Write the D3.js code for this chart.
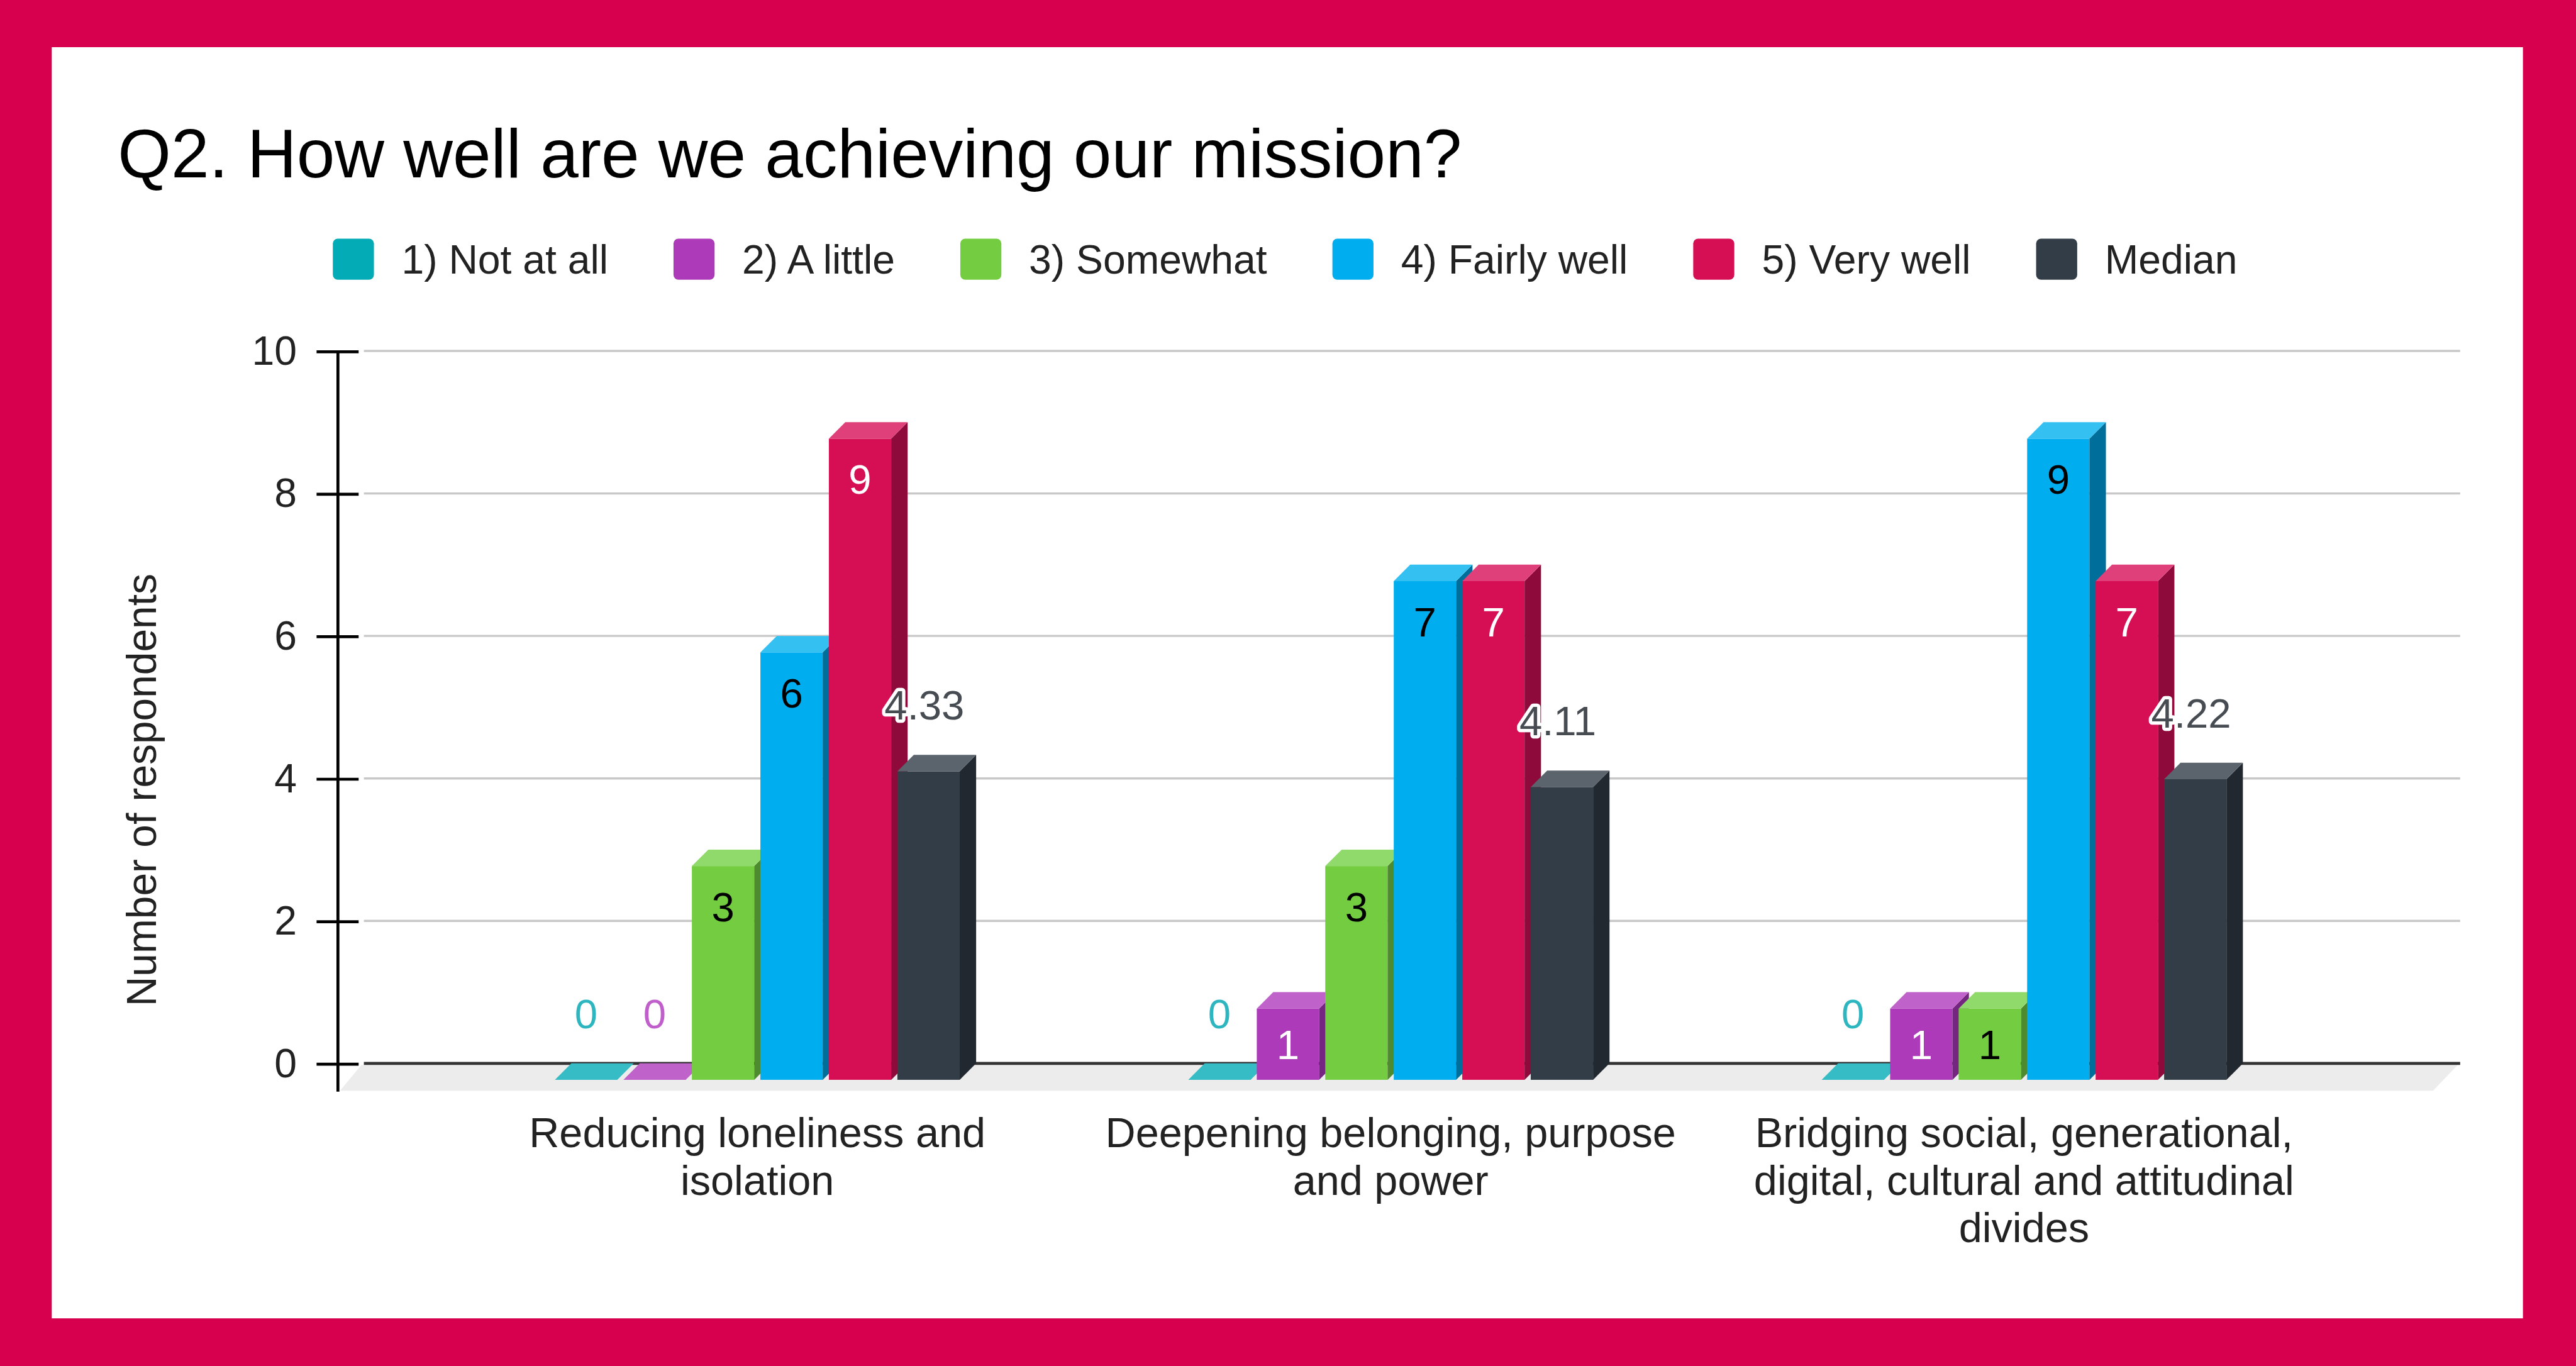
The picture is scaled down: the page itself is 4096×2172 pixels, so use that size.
<!DOCTYPE html>
<html><head><meta charset="utf-8">
<script src="https://cdn.jsdelivr.net/npm/d3@7"></script>
<style>html,body{margin:0;padding:0;background:#D7004F;overflow:hidden}svg{display:block}</style>
</head><body><script>
// ---------------- data ----------------
const title = "Q2. How well are we achieving our mission?";
const yTitle = "Number of respondents";
const categories = [
  "Reducing loneliness and isolation",
  "Deepening belonging, purpose and power",
  "Bridging social, generational, digital, cultural and attitudinal divides"
];
const seriesNames = ["1) Not at all", "2) A little", "3) Somewhat", "4) Fairly well", "5) Very well", "Median"];
const notAtAll   = [0, 0, 0];
const aLittle    = [0, 1, 1];
const somewhat   = [3, 3, 1];
const fairlyWell = [6, 7, 9];
const veryWell   = [9, 7, 7];
const median     = [4.33, 4.11, 4.22];
const yTicks = [0, 2, 4, 6, 8, 10];

// ---------------- styles ----------------
const seriesValues = [notAtAll, aLittle, somewhat, fairlyWell, veryWell, median];
const frontColors = ["#02ABB6", "#AD3BB9", "#74CD41", "#00AEEF", "#D60F55", "#333D47"];
const topColors   = ["#35BCC4", "#BF62C9", "#90D96B", "#35C0F2", "#DF4079", "#5B636C"];
const sideColors  = ["#017C84", "#742680", "#4E8A2E", "#006E9A", "#8E0A3A", "#222830"];
const insideLabel = ["#000", "#fff", "#000", "#000", "#fff", "#fff"];
const outsideLabel= ["#2DB6C0", "#C05FCB", "#222", "#222", "#222", "#474C52"];
const FONT = "'Liberation Sans', Arial, Helvetica, sans-serif";

const W = 1568, H = 831;
const svg = d3.select("body").append("svg")
  .attr("width", 4096).attr("height", 2172)
  .attr("viewBox", `0 0 ${W} ${H}`)
  .attr("preserveAspectRatio", "none")
  .style("font-family", FONT);

svg.append("rect").attr("width", W).attr("height", H).attr("fill", "#D7004F");
svg.append("rect").attr("x", 31.5).attr("y", 28.7).attr("width", 1504.2).attr("height", 773.3).attr("fill", "#fff");

// title
svg.append("text").attr("x", 71.7).attr("y", 108).attr("font-size", 41.7).attr("fill", "#000").text(title);

// legend
const legend = svg.append("g");
let lx = 202.6;
seriesNames.forEach((name, i) => {
  legend.append("rect").attr("x", lx).attr("y", 145.2).attr("width", 25).attr("height", 25)
    .attr("rx", 3).attr("fill", frontColors[i]);
  const t = legend.append("text").attr("x", lx + 41.8).attr("y", 166.6)
    .attr("font-size", 24.6).attr("fill", "#222").text(name);
  lx += 41.8 + t.node().getComputedTextLength() + 39.8;
});

// scales
const y = d3.scaleLinear().domain([0, 10]).range([646.9, 213.5]);
const x0 = d3.scaleBand().domain(categories).range([268.2, 1424.8]).paddingInner(0).paddingOuter(0);
const x1 = d3.scaleBand().domain(seriesNames).range([-123.2, 123.2]).paddingInner(0.09).paddingOuter(0);
const D = 10; // depth offset
const plotL = 221.5, plotR = 1497.5;

// floor
svg.append("polygon")
  .attr("points", [[220, y(0) + 0.9], [1496, y(0) + 0.9], [1481, y(0) + 16.6], [207, y(0) + 16.6]].map(p => p.join(",")).join(" "))
  .attr("fill", "#ECECEC");

// gridlines
svg.append("g").selectAll("line").data(yTicks.filter(t => t !== 0)).join("line")
  .attr("x1", plotL).attr("x2", plotR).attr("y1", d => y(d)).attr("y2", d => y(d))
  .attr("stroke", "#C8C8C8").attr("stroke-width", 1.3);
svg.append("line").attr("x1", plotL).attr("x2", plotR).attr("y1", y(0)).attr("y2", y(0))
  .attr("stroke", "#333").attr("stroke-width", 1.8);

// y axis
const axisX = 205.7;
const yAxis = svg.append("g").attr("transform", `translate(${axisX},0)`)
  .call(d3.axisLeft(y).tickValues(yTicks).tickSize(13).tickPadding(12).tickFormat(d3.format("d")));
yAxis.select(".domain").remove();
yAxis.selectAll(".tick line").attr("x1", 12.6).attr("stroke", "#000").attr("stroke-width", 1.8);
yAxis.selectAll(".tick text").attr("font-size", 24.6).attr("fill", "#222").attr("font-family", FONT);
svg.append("line").attr("x1", axisX).attr("x2", axisX).attr("y1", y(10)).attr("y2", y(0) + 17.2)
  .attr("stroke", "#000").attr("stroke-width", 1.8);

// y title
svg.append("text").attr("transform", `translate(94.8,480.6) rotate(-90)`)
  .attr("text-anchor", "middle").attr("font-size", 25.2).attr("fill", "#222").text(yTitle);

// bars
const bars = svg.append("g");
const labels = [];
const w = x1.bandwidth();
categories.forEach((cat, ci) => {
  seriesNames.forEach((s, si) => {
    const v = seriesValues[si][ci];
    const x = x0(cat) + x0.bandwidth() / 2 + x1(s);
    const yb = y(0) + D;
    const yf = y(v) + D;
    const g = bars.append("g");
    if (v > 0) {
      g.append("rect").attr("x", x).attr("y", yf).attr("width", w).attr("height", yb - yf).attr("fill", frontColors[si]);
      g.append("polygon").attr("points", [[x + w, yf], [x + w + D, yf - D], [x + w + D, yb - D], [x + w, yb]].map(p => p.join(",")).join(" "))
        .attr("fill", sideColors[si]);
    }
    g.append("polygon").attr("points", [[x, yf], [x + w, yf], [x + w + D, yf - D], [x + D, yf - D]].map(p => p.join(",")).join(" "))
      .attr("fill", topColors[si]);
    const outside = (v === 0 || s === "Median");
    labels.push({
      x: x + w / 2 - (s === "Median" ? 2.5 : 0),
      y: outside ? yf - 31.5 : Math.min(yf + 33.5, (yf + yb) / 2 + 9),
      text: String(v),
      color: outside ? outsideLabel[si] : insideLabel[si],
      halo: outside && v > 0
    });
  });
});

svg.append("g").selectAll("text").data(labels).join("text")
  .attr("x", d => d.x).attr("y", d => d.y).attr("text-anchor", "middle")
  .attr("font-size", 25).attr("fill", d => d.color)
  .attr("stroke", d => d.halo ? "#fff" : "none").attr("stroke-width", 4)
  .attr("stroke-linejoin", "round").style("paint-order", "stroke")
  .text(d => d.text);

// category labels (wrapped)
function wrap(text, maxW, size) {
  const tmp = svg.append("text").attr("font-size", size);
  const words = text.split(" ");
  const lines = [];
  let cur = "";
  words.forEach(wd => {
    const test = cur ? cur + " " + wd : wd;
    tmp.text(test);
    if (tmp.node().getComputedTextLength() > maxW && cur) { lines.push(cur); cur = wd; }
    else cur = test;
  });
  if (cur) lines.push(cur);
  tmp.remove();
  return lines;
}
const catG = svg.append("g");
categories.forEach(cat => {
  const lines = wrap(cat, 362, 25.5);
  const t = catG.append("text").attr("text-anchor", "middle").attr("font-size", 25.5).attr("fill", "#222");
  lines.forEach((ln, i) => {
    t.append("tspan").attr("x", x0(cat) + x0.bandwidth() / 2).attr("y", 698 + i * 28.8).text(ln);
  });
});
</script></body></html>
